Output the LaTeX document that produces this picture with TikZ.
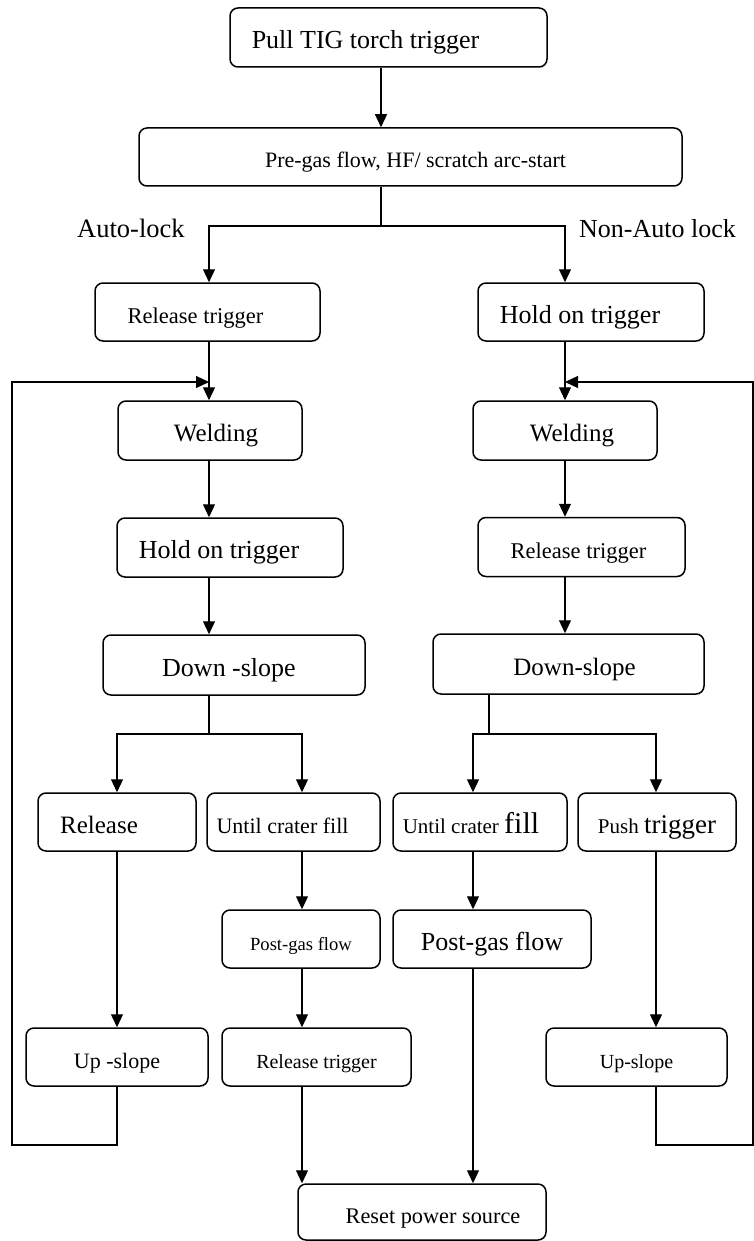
\documentclass[tikz,border=0pt]{standalone}
\usepackage{fontspec}
\setmainfont{Liberation Serif}
\usetikzlibrary{arrows.meta}
\newcommand\fsz[1]{\fontsize{#1}{#1}\selectfont}
\newcommand\tsh[2]{\hspace*{#1}#2\hspace*{-#1}}
\begin{document}
\begin{tikzpicture}[x=1pt,y=-1pt,
  box/.style={draw, line width=1.5pt, rounded corners=8pt, inner sep=0pt,
    text height=22pt, text depth=0pt, minimum height=58pt},
  conn/.style={line width=1.2pt},
  arr/.style={conn, -{Triangle[length=13pt,width=12pt]}},
  lbl/.style={anchor=base west, inner sep=0pt}]
\useasboundingbox (0,0) rectangle (754,1241);

% column coordinates
\coordinate (k381) at (381,0);
\coordinate (kL) at (209,0);
\coordinate (kR) at (565,0);
\coordinate (ke1) at (117,0);
\coordinate (ke2) at (302,0);
\coordinate (ke3) at (473,0);
\coordinate (ke4) at (656,0);
\coordinate (kd2) at (489,0);
\coordinate (j1) at (0,226);
\coordinate (jD) at (0,734);
\coordinate (fl) at (12,1145);
\coordinate (fr) at (753,1145);
\coordinate (fjL) at (209,382);
\coordinate (fjR) at (565,382);

% boxes
\node[box, minimum width=317pt, minimum height=59pt] (b1) at (388.5,37.5) {\fsz{26}\tsh{-23pt}{Pull TIG torch trigger}};
\node[box, minimum width=543pt] (b2) at (410.5,157) {\fsz{22}\tsh{5pt}{Pre-gas flow, HF/ scratch arc-start}};
\node[box, minimum width=225pt] (a1) at (207.5,312) {\fsz{22.5}\tsh{-12pt}{Release trigger}};
\node[box, minimum width=226pt] (a2) at (591,312) {\fsz{26}\tsh{-11pt}{Hold on trigger}};
\node[box, minimum width=184pt, minimum height=59pt] (w1) at (210,430.5) {\fsz{25}\tsh{6pt}{Welding}};
\node[box, minimum width=184pt, minimum height=59pt] (w2) at (565,430.5) {\fsz{25}\tsh{7pt}{Welding}};
\node[box, minimum width=226pt, minimum height=59pt] (c1) at (230,547.5) {\fsz{26}\tsh{-11pt}{Hold on trigger}};
\node[box, minimum width=207pt, minimum height=59pt] (c2) at (581.5,547) {\fsz{22.5}\tsh{-3pt}{Release trigger}};
\node[box, minimum width=262pt, minimum height=60pt] (d1) at (234,665) {\fsz{26}\tsh{-5pt}{Down -slope}};
\node[box, minimum width=271pt, minimum height=60pt] (d2) at (568.5,664) {\fsz{25}\tsh{6pt}{Down-slope}};
\node[box, minimum width=158pt] (e1) at (117,822) {\fsz{25}\tsh{-18pt}{Release}};
\node[box, minimum width=173pt] (e2) at (293.5,822) {\fsz{22}\tsh{-11pt}{Until crater fill}};
\node[box, minimum width=174pt] (e3) at (480,822) {\tsh{-9pt}{\fsz{21}Until crater \fsz{30}fill}};
\node[box, minimum width=158pt] (e4) at (657,822) {{\fsz{21}Push }{\fsz{27}trigger}};
\node[box, minimum width=158pt] (f1) at (301,939) {\fsz{18.6}Post-gas flow};
\node[box, minimum width=198pt] (f2) at (492,939) {\fsz{26}Post-gas flow};
\node[box, minimum width=182pt] (g1) at (117,1057) {\fsz{22}Up -slope};
\node[box, minimum width=189pt] (g2) at (316.5,1057) {\fsz{20}Release trigger};
\node[box, minimum width=181pt] (g3) at (636.5,1057) {\fsz{20}Up-slope};
\node[box, minimum width=248pt, minimum height=56pt] (rs) at (422,1212) {\fsz{22.3}\tsh{11pt}{Reset power source}};

% labels
\node[lbl] (lauto) at (77,237) {\fsz{26.5}Auto-lock};
\node[lbl] (lnon) at (579,237) {\fsz{26}Non-Auto lock};

% connectors
\draw[arr] (b1.south -| k381) -- (b2.north -| k381);
\draw[conn] (b2.south -| k381) -- (k381 |- j1);
\draw[arr] (k381 |- j1) -| (a1.north -| kL);
\draw[arr] (k381 |- j1) -| (a2.north -| kR);
\draw[arr] (a1.south -| kL) -- (w1.north -| kL);
\draw[arr] (a2.south -| kR) -- (w2.north -| kR);
\draw[arr] (w1.south -| kL) -- (c1.north -| kL);
\draw[arr] (w2.south -| kR) -- (c2.north -| kR);
\draw[arr] (c1.south -| kL) -- (d1.north -| kL);
\draw[arr] (c2.south -| kR) -- (d2.north -| kR);
\draw[conn] (d1.south -| kL) -- (kL |- jD);
\draw[arr] (kL |- jD) -| (e1.north -| ke1);
\draw[arr] (kL |- jD) -| (e2.north -| ke2);
\draw[conn] (d2.south -| kd2) -- (kd2 |- jD);
\draw[arr] (kd2 |- jD) -| (e3.north -| ke3);
\draw[arr] (kd2 |- jD) -| (e4.north -| ke4);
\draw[arr] (e1.south -| ke1) -- (g1.north -| ke1);
\draw[arr] (e2.south -| ke2) -- (f1.north -| ke2);
\draw[arr] (e3.south -| ke3) -- (f2.north -| ke3);
\draw[arr] (e4.south -| ke4) -- (g3.north -| ke4);
\draw[arr] (f1.south -| ke2) -- (g2.north -| ke2);
\draw[arr] (g2.south -| ke2) -- (rs.north -| ke2);
\draw[arr] (f2.south -| ke3) -- (rs.north -| ke3);
% feedback loops
\draw[arr] (g1.south -| ke1) -- (ke1 |- fl) -- (fl) -- (fl |- fjL) -- (fjL);
\draw[arr] (g3.south -| ke4) -- (ke4 |- fr) -- (fr) -- (fr |- fjR) -- (fjR);
\end{tikzpicture}
\end{document}
